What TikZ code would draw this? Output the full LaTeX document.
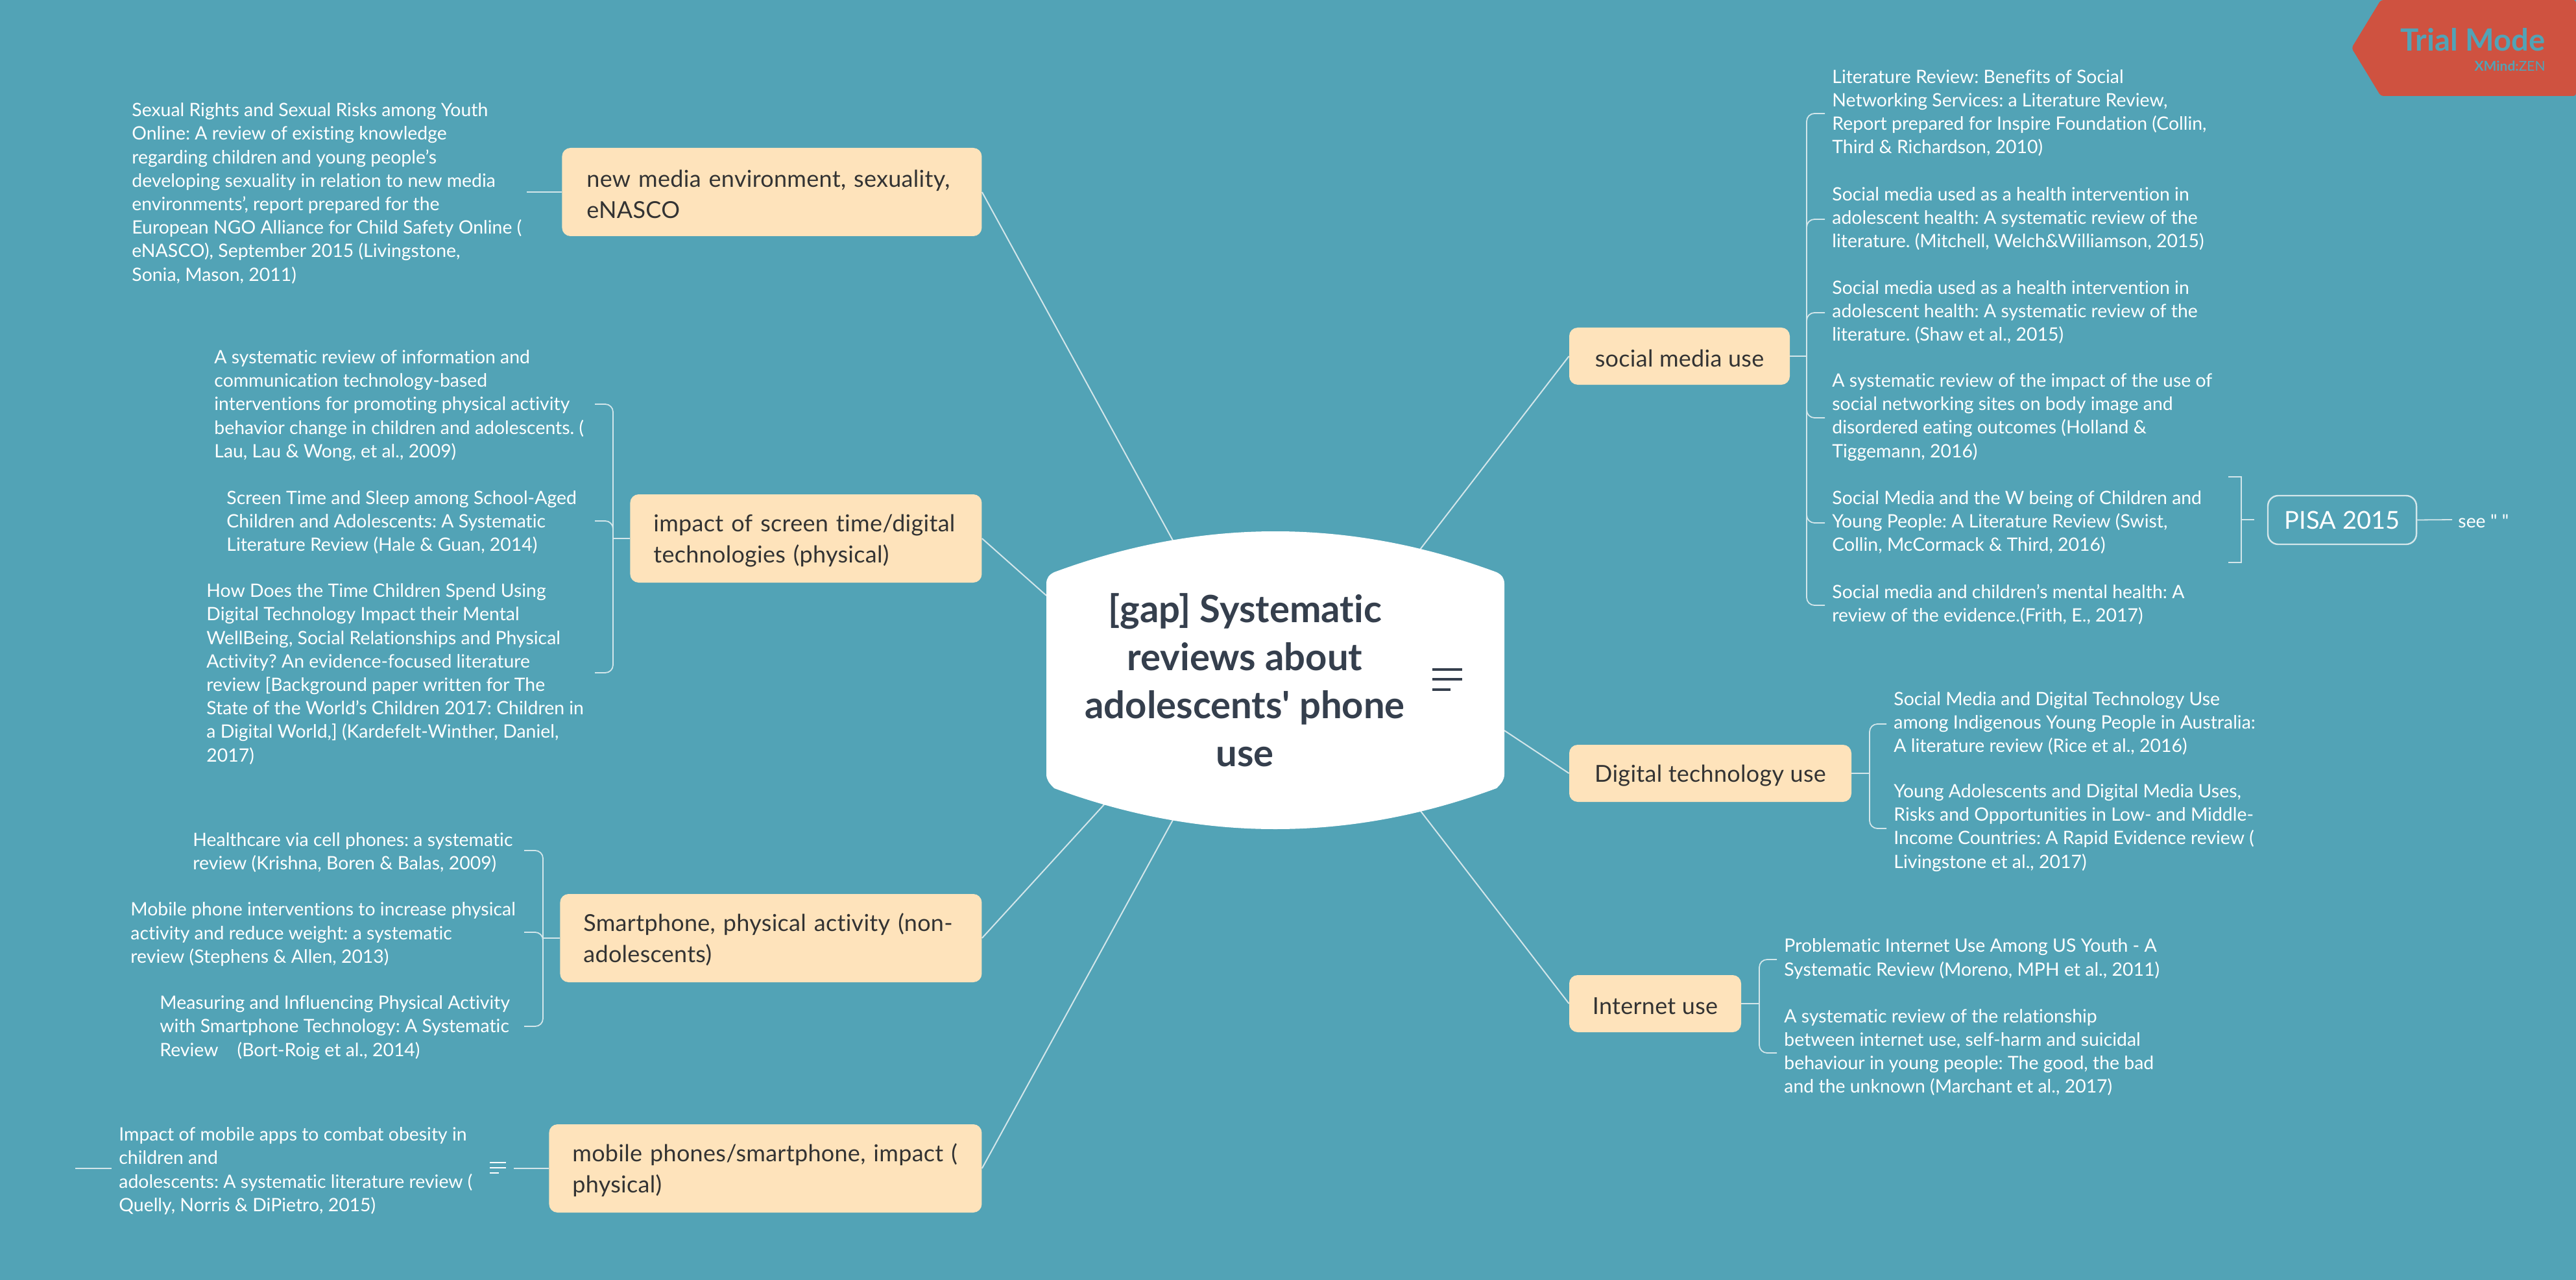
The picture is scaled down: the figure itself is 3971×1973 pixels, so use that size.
\documentclass[tikz,border=0pt]{standalone}
\usepackage{fontspec}
\usepackage{xcolor}
\setmainfont[Ligatures = {TeX, NoCommon}]{Lato}
\newfontfamily\plainquotes[Ligatures = NoCommon]{Lato}
\definecolor{mapbg}{HTML}{52A3B6}
\definecolor{topicfill}{HTML}{FEE3BB}
\definecolor{topicink}{HTML}{333333}
\definecolor{rootink}{HTML}{353F4D}
\definecolor{wire}{HTML}{D3E6EA}
\definecolor{trialred}{HTML}{CF5240}
\tikzset{
    topic/.style = {fill = topicfill, text = topicink, rounded corners = 6.5pt, inner sep = 0,
        font = \fontsize{18}{24}\selectfont\addfontfeature{LetterSpace=.8},
        execute at begin node = {\rule{0pt}{16.5pt}}},
    twolines/.style = {minimum height = 68pt, align = left, anchor = west},
    oneline/.style = {minimum height = 44pt},
    leaf/.style = {text = white, anchor = west, align = left, inner sep = 0, yshift = -1pt,
        font = \frenchspacing\fontsize{14.2}{18.1}\selectfont},
    wire/.style = {draw = wire, line width = 1pt},
    branch/.style = {draw = wire, line width = .9pt, rounded corners = 6pt},
    stub/.style = {draw = wire, line width = 1.4pt}
}
\begin{document}
\begin{tikzpicture}[x = .5pt, y = -.5pt]
    \fill[mapbg] (0, 0) rectangle (3971, 1973);
    \useasboundingbox (0, 0) rectangle (3971, 1973);

    %% trial mark
    \fill[trialred, rounded corners = 2pt] (3625, 74) -- (3670, 0) -- (3971, 0) -- (3971, 148) -- (3670, 148) -- cycle;
    \node (trial) [anchor = base east, inner sep = 0, text = mapbg] at (3924, 79)
        {\fontsize{23.6}{25}\selectfont\bfseries Trial Mode};
    \node (xmind) [anchor = base east, inner sep = 0, text = mapbg] at (3924, 110)
        {\fontsize{10.5}{11}\selectfont\textbf{XMind:}ZEN};

    %% root
    \coordinate (rootA) at (1808, 833);
    \coordinate (rootB) at (1613, 918);
    \coordinate (rootC) at (1704, 1238);
    \coordinate (rootD) at (1808, 1264);
    \coordinate (rootE) at (2189, 847);
    \coordinate (rootF) at (2319, 1126);
    \coordinate (rootG) at (2189, 1249);

    %% topics
    \node (media) [topic, twolines, text width = 323.5pt] at (866, 296)
        {\hspace*{19pt}new media environment, sexuality,\\\hspace*{19pt}eNASCO};
    \node (screen) [topic, twolines, text width = 271pt] at (971, 830)
        {\hspace*{18pt}impact of screen time/digital\\\hspace*{18pt}technologies (physical)};
    \node (phone) [topic, twolines, text width = 325pt] at (863, 1446)
        {\hspace*{18pt}Smartphone, physical activity (non-\\\hspace*{18pt}adolescents)};
    \node (mobile) [topic, twolines, text width = 333.5pt] at (846, 1801)
        {\hspace*{18pt}mobile phones/smartphone, impact (\\\hspace*{18pt}physical)};
    \node (social) [topic, oneline, minimum width = 170pt] at (2589, 549) {social media use};
    \node (digital) [topic, oneline, minimum width = 217.5pt] at (2636.5, 1192) {Digital technology use};
    \node (internet) [topic, oneline, minimum width = 132.5pt] at (2551.5, 1547) {Internet use};

    %% connectors of the root
    \draw[wire] (media.east) -- (rootA);
    \draw[wire] (screen.east) -- (rootB);
    \draw[wire] (phone.east) -- (rootC);
    \draw[wire] (mobile.east) -- (rootD);
    \draw[wire] (social.west) -- (rootE);
    \draw[wire] (digital.west) -- (rootF);
    \draw[wire] (internet.west) -- (rootG);

    %% root shape
    \fill[white] (1613, 900) .. controls (1613, 891) and (1617, 886) .. (1625, 882)
        .. controls (1852, 798) and (2080, 798) .. (2307, 882)
        .. controls (2315, 886) and (2319, 891) .. (2319, 900)
        -- (2319, 1193) .. controls (2319, 1202) and (2315, 1207) .. (2307, 1215)
        .. controls (2080, 1299) and (1852, 1299) .. (1625, 1215)
        .. controls (1617, 1207) and (1613, 1202) .. (1613, 1193) -- cycle;
    \node (root) [align = center, inner sep = 0, text = rootink,
        font = \plainquotes\fontsize{29}{37}\selectfont\bfseries] at (1919, 1048)
        {[gap] Systematic\\reviews about\\adolescents' phone\\use};
    \foreach \y/\w in {1032/46, 1047/46, 1063/28}
        \draw[rootink, line width = 2pt] (2208, \y) -- +(\w, 0);

    %% new media leaf
    \node (mediaA) [leaf] at (203, 296) {Sexual Rights and Sexual Risks among Youth\\
        Online: A review of existing knowledge\\
        regarding children and young people's\\
        developing sexuality in relation to new media\\
        environments', report prepared for the\\
        European NGO Alliance for Child Safety Online (\\
        eNASCO), September 2015 (Livingstone,\\
        Sonia, Mason, 2011)};
    \coordinate (mediaEnd) at (812, 296);
    \draw[stub] (media.west) -- (mediaEnd);

    %% screen time leaves
    \node (screenA) [leaf] at (330, 623) {A systematic review of information and\\
        communication technology-based\\
        interventions for promoting physical activity\\
        behavior change in children and adolescents. (\\
        Lau, Lau \& Wong, et al., 2009)};
    \node (screenB) [leaf] at (349, 803) {Screen Time and Sleep among School-Aged\\
        Children and Adolescents: A Systematic\\
        Literature Review (Hale \& Guan, 2014)};
    \node (screenC) [leaf] at (318, 1037) {How Does the Time Children Spend Using\\
        Digital Technology Impact their Mental\\
        WellBeing, Social Relationships and Physical\\
        Activity? An evidence-focused literature\\
        review [Background paper written for The\\
        State of the World's Children 2017: Children in\\
        a Digital World,] (Kardefelt-Winther, Daniel,\\
        2017)};
    \coordinate (screenSpine) at (945, 830);
    \draw[stub] (screen.west) -- (screenSpine);
    \foreach \y in {623, 803, 1037}
        \draw[branch] (917, \y) -| (screenSpine);

    %% smartphone leaves
    \node (phoneA) [leaf] at (297, 1312) {Healthcare via cell phones: a systematic\\
        review (Krishna, Boren \& Balas, 2009)};
    \node (phoneB) [leaf] at (201, 1438) {Mobile phone interventions to increase physical\\
        activity and reduce weight: a systematic\\
        review (Stephens \& Allen, 2013)};
    \node (phoneC) [leaf] at (246, 1582) {Measuring and Influencing Physical Activity\\
        with Smartphone Technology: A Systematic\\
        Review\ \ \ \ (Bort-Roig et al., 2014)};
    \coordinate (phoneSpine) at (837, 1446);
    \draw[stub] (phone.west) -- (phoneSpine);
    \foreach \y in {1311, 1437, 1582}
        \draw[branch] (808, \y) -| (phoneSpine);

    %% mobile leaf
    \node (mobileA) [leaf] at (183, 1803) {Impact of mobile apps to combat obesity in\\
        children and\\
        adolescents: A systematic literature review (\\
        Quelly, Norris \& DiPietro, 2015)};
    \coordinate (mobileEnd) at (792, 1801);
    \coordinate (mobileFar) at (116, 1801);
    \coordinate (mobileNear) at (172, 1801);
    \draw[stub] (mobile.west) -- (mobileEnd);
    \draw[stub] (mobileFar) -- (mobileNear);
    \foreach \y/\w in {1792/25, 1800/25, 1808/14}
        \draw[white, line width = 1.4pt] (755, \y) -- +(\w, 0);

    %% social media leaves
    \node (socialA) [leaf] at (2824, 172) {Literature Review: Benefits of Social\\
        Networking Services: a Literature Review,\\
        Report prepared for Inspire Foundation (Collin,\\
        Third \& Richardson, 2010)};
    \node (socialB) [leaf] at (2824, 335) {Social media used as a health intervention in\\
        adolescent health: A systematic review of the\\
        literature. (Mitchell, Welch\&Williamson, 2015)};
    \node (socialC) [leaf] at (2824, 479) {Social media used as a health intervention in\\
        adolescent health: A systematic review of the\\
        literature. (Shaw et al., 2015)};
    \node (socialD) [leaf] at (2824, 641) {A systematic review of the impact of the use of\\
        social networking sites on body image and\\
        disordered eating outcomes (Holland \&\\
        Tiggemann, 2016)};
    \node (socialE) [leaf] at (2824, 803) {Social Media and the W being of Children and\\
        Young People: A Literature Review (Swist,\\
        Collin, McCormack \& Third, 2016)};
    \node (socialF) [leaf] at (2824, 930) {Social media and children's mental health: A\\
        review of the evidence.(Frith, E., 2017)};
    \coordinate (socialSpine) at (2785, 549);
    \draw[stub] (social.east) -- (socialSpine);
    \foreach \leaf in {socialA, socialB, socialC, socialD, socialE, socialF}
        \draw[branch] (\leaf.west) ++(-11, 1) -| (socialSpine);

    %% summary
    \node (pisa) [draw = wire, line width = 1.2pt, rounded corners = 8pt, minimum width = 114.5pt,
        minimum height = 37.5pt, text = white, inner sep = 0, font = \fontsize{19}{24}\selectfont]
        at (3610.5, 801.5) {PISA 2015};
    \node (see) [leaf, font = \plainquotes\fontsize{14.2}{18.1}\selectfont] at (3789, 801) {see " "};
    \coordinate (braceTop) at (3435, 735);
    \coordinate (braceBot) at (3435, 867);
    \coordinate (braceEnd) at (3475, 801);
    \coordinate (seeEnd) at (3780, 801);
    \draw[branch, rounded corners = 0] (braceTop) -| (3455, 867) -- (braceBot);
    \draw[branch] (3455, 801) -- (braceEnd);
    \draw[branch] (pisa.east) -- (seeEnd);

    %% digital leaves
    \node (digitalA) [leaf] at (2919, 1113) {Social Media and Digital Technology Use\\
        among Indigenous Young People in Australia:\\
        A literature review (Rice et al., 2016)};
    \node (digitalB) [leaf] at (2919, 1274) {Young Adolescents and Digital Media Uses,\\
        Risks and Opportunities in Low- and Middle-\\
        Income Countries: A Rapid Evidence review (\\
        Livingstone et al., 2017)};
    \coordinate (digitalSpine) at (2882, 1192);
    \draw[stub] (digital.east) -- (digitalSpine);
    \foreach \leaf in {digitalA, digitalB}
        \draw[branch] (\leaf.west) ++(-11, 1) -| (digitalSpine);

    %% internet leaves
    \node (internetA) [leaf] at (2750, 1476) {Problematic Internet Use Among US Youth - A\\
        Systematic Review (Moreno, MPH et al., 2011)};
    \node (internetB) [leaf] at (2750, 1620) {A systematic review of the relationship\\
        between internet use, self-harm and suicidal\\
        behaviour in young people: The good, the bad\\
        and the unknown (Marchant et al., 2017)};
    \coordinate (internetSpine) at (2712, 1547);
    \draw[stub] (internet.east) -- (internetSpine);
    \foreach \leaf in {internetA, internetB}
        \draw[branch] (\leaf.west) ++(-11, 1) -| (internetSpine);
\end{tikzpicture}
\end{document}
